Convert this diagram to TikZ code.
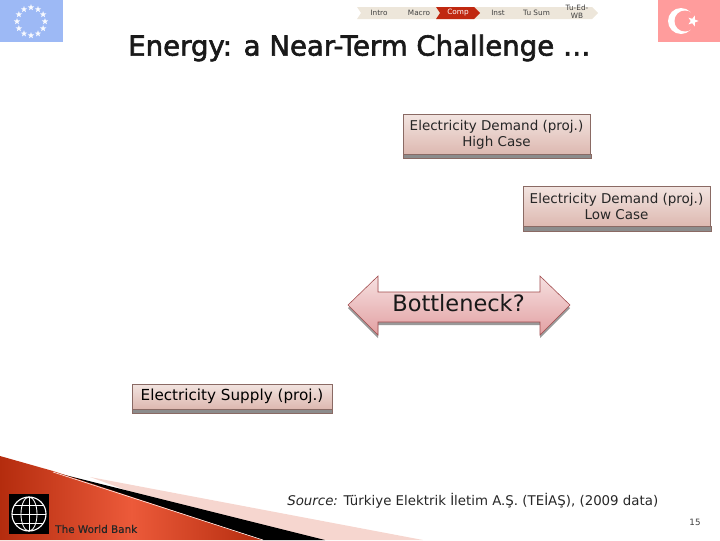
\documentclass[tikz,border=0pt]{standalone}
\usepackage{fontspec}
\setmainfont{DejaVu Sans}
\newfontfamily\heavyfont[FakeBold=2.2]{DejaVu Sans}
\newfontfamily\semifont[FakeBold=0.5]{DejaVu Sans}
\usetikzlibrary{shapes.geometric}
\definecolor{euBlue}{HTML}{9DB9F5}
\definecolor{trRed}{HTML}{FF9C9C}
\definecolor{navTan}{HTML}{EDE6DA}
\definecolor{navRed}{HTML}{C02810}
\definecolor{boxTop}{HTML}{F2E4E0}
\definecolor{boxBottom}{HTML}{DDB8B0}
\definecolor{boxLine}{HTML}{8A6A64}
\definecolor{arrowTop}{HTML}{F6E0E0}
\definecolor{arrowBottom}{HTML}{E2A0A2}
\definecolor{arrowLine}{HTML}{A04A4C}
\definecolor{wedgeDark}{HTML}{B42C0E}
\definecolor{wedgeLight}{HTML}{EC5A3A}
\definecolor{wedgePink}{HTML}{F6D6CF}

\begin{document}
\begin{tikzpicture}[x=0.025cm, y=-0.025cm,
  navlabel/.style={font=\fontsize{5.2}{5.8}\selectfont, text=black!75, inner sep=0pt, align=center},
  demandbox/.style={draw=boxLine, top color=boxTop, bottom color=boxBottom, inner sep=0pt, align=center,
                    font=\fontsize{9.6}{11.4}\selectfont, text=black!85},
  boxshadow/.style={fill=black!45, draw=boxLine},
  eustar/.style={star, star points=5, star point ratio=2.4, fill=white!92!euBlue, inner sep=0pt, minimum size=4.8pt},
]
\useasboundingbox (0, 0) rectangle (720, 540);

% flags
\fill[euBlue] (0, 0) rectangle (63, 42);
\foreach \i in {1,...,12} {
  \node[eustar] (star\i) at ({31 + 14*cos(30*\i)}, {21.5 + 14*sin(30*\i)}) {};
}
\fill[trRed] (658, 0) rectangle (720, 42);
\fill[white] (681, 21) circle (13*0.025cm);
\fill[trRed] (685, 21) circle (10.5*0.025cm);
\node[star, star points=5, star point ratio=2.4, fill=white, inner sep=0pt, minimum size=8pt, rotate=-90] (trstar) at (693, 21) {};

% navigation bar
\fill[navTan] (357, 7) -- (592, 7) -- (598, 13) -- (592, 19) -- (357, 19) -- (361, 13) -- cycle;
\fill[navRed] (436, 7) -- (474, 7) -- (480, 13) -- (474, 19) -- (436, 19) -- (440, 13) -- cycle;
\node[navlabel] (intro) at (379, 13) {Intro};
\node[navlabel] (macro) at (419, 13) {Macro};
\node[navlabel, text=white] (comp) at (458, 13) {Comp};
\node[navlabel] (inst) at (498, 13) {Inst};
\node[navlabel] (tusum) at (536.5, 13) {Tu Sum};
\node[navlabel] (tuedwb) at (577, 12) {Tu-Ed-\\WB};

% title
\node[font=\heavyfont\fontsize{19.6}{19.6}\selectfont, text=black!90, inner sep=0pt, anchor=west] (title) at (128, 48)
  {Energy: a Near-Term Challenge \dots};

% demand and supply boxes
\fill[boxshadow] (403, 154) rectangle (591, 158);
\node[demandbox, minimum width=187*0.025cm, minimum height=40*0.025cm] (high) at (496.5, 134.5) {Electricity Demand (proj.)\\High Case};
\fill[boxshadow] (523, 226) rectangle (711, 231);
\node[demandbox, minimum width=187*0.025cm, minimum height=40*0.025cm] (low) at (616.5, 206.5) {Electricity Demand (proj.)\\Low Case};
\fill[boxshadow] (132, 409) rectangle (332, 413);
\node[demandbox, minimum width=200*0.025cm, minimum height=25*0.025cm, font=\fontsize{10.8}{12}\selectfont, text=black] (supply) at (232, 396.5) {Electricity Supply (proj.)};

% double arrow
\fill[black!40] (348, 308) -- (378, 279) -- (378, 295) -- (540, 295) -- (540, 279) -- (570, 308) -- (540, 338) -- (540, 325) -- (378, 325) -- (378, 338) -- cycle;
\draw[arrowLine, top color=arrowTop, bottom color=arrowBottom] (348, 305) -- (378, 276) -- (378, 292) -- (540, 292) -- (540, 276) -- (570, 305) -- (540, 335) -- (540, 322) -- (378, 322) -- (378, 335) -- cycle;
\node[font=\fontsize{16}{16}\selectfont, text=black!90, inner sep=0pt] (bottleneck) at (458.5, 303) {Bottleneck?};

% footer wedge
\fill[wedgePink] (90, 477) -- (423, 540) -- (263, 540) -- cycle;
\fill[black] (53, 472) -- (325, 540) -- (263, 540) -- cycle;
\shade[left color=wedgeDark, right color=wedgeDark, middle color=wedgeLight]
  (0, 456) -- (53, 471) -- (263, 540) -- (0, 540) -- cycle;
\draw[white!75!wedgePink, line width=0.4pt] (53, 472) -- (263, 540);

% world bank logo
\fill[black] (9, 494) rectangle (49, 534);
\draw[white, line width=0.8pt] (29, 514) circle (17*0.025cm);
\draw[white, line width=0.6pt] (29, 514) ellipse (8*0.025cm and 17*0.025cm);
\draw[white, line width=0.6pt] (29, 497) -- (29, 531) (12, 514) -- (46, 514) (15, 505) -- (43, 505) (15, 523) -- (43, 523);
\node[font=\semifont\fontsize{7.4}{7.4}\selectfont, text=black!85, inner sep=0pt, anchor=west] (worldbank) at (55, 529) {The World Bank};

% source and page number
\node[font=\fontsize{9.5}{9.5}\selectfont, text=black!85, inner sep=0pt, anchor=west] (source) at (287, 501)
  {\textit{Source:} Türkiye Elektrik İletim A.Ş. (TEİAŞ), (2009 data)};
\node[font=\fontsize{6.2}{6.2}\selectfont, text=black!75, inner sep=0pt] (page) at (695, 522) {15};

\end{tikzpicture}
\end{document}
